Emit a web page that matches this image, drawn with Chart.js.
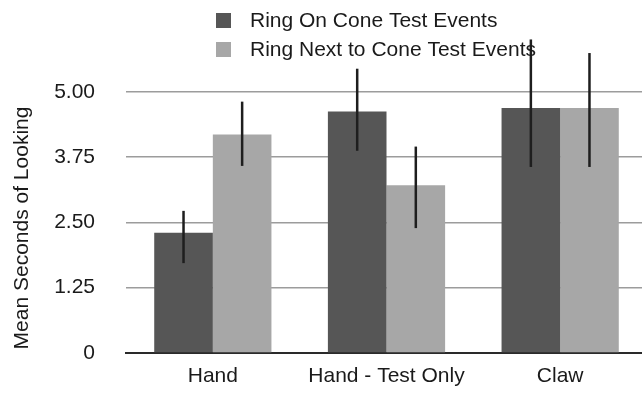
<!DOCTYPE html>
<html>
<head>
<meta charset="utf-8">
<script src="https://cdn.jsdelivr.net/npm/chart.js@4/dist/chart.umd.min.js"></script>
<style>
  html, body { margin: 0; padding: 0; background: #fff; overflow: hidden; }
  #wrap { width: 647px; height: 393px; }
</style>
</head>
<body>
<div id="wrap"><canvas id="chart"></canvas></div>
<script>
"use strict";

let categories = ["Hand", "Hand - Test Only", "Claw"];
let seriesNames = ["Ring On Cone Test Events", "Ring Next to Cone Test Events"];
let ringOn = [2.30, 4.62, 4.69];
let ringNext = [4.18, 3.21, 4.69];
let ringOnLow = [1.72, 3.87, 3.56];
let ringOnHigh = [2.72, 5.44, 6.00];
let ringNextLow = [3.58, 2.39, 3.56];
let ringNextHigh = [4.81, 3.95, 5.74];
let yTicks = [0, 1.25, 2.5, 3.75, 5];
let yTitle = "Mean Seconds of Looking";

let FONT = "'Liberation Sans', Arial, Helvetica, sans-serif";
let errLow = [ringOnLow, ringNextLow];
let errHigh = [ringOnHigh, ringNextHigh];

// error bars + legend + rotated axis title
let extras = {
  id: "extras",
  afterDatasetsDraw(chart) {
    let ctx = chart.ctx;
    let y = chart.scales.y;
    ctx.save();
    ctx.strokeStyle = "#1e1e1e";
    ctx.lineWidth = 2.5;
    chart.data.datasets.forEach((ds, i) => {
      let meta = chart.getDatasetMeta(i);
      meta.data.forEach((bar, j) => {
        ctx.beginPath();
        ctx.moveTo(bar.x, y.getPixelForValue(errLow[i][j]));
        ctx.lineTo(bar.x, y.getPixelForValue(errHigh[i][j]));
        ctx.stroke();
      });
    });

    // legend
    ctx.font = "21px " + FONT;
    ctx.textBaseline = "alphabetic";
    chart.data.datasets.forEach((ds, i) => {
      let top = 13 + i * 29;
      ctx.fillStyle = ds.backgroundColor;
      ctx.fillRect(216, top, 15, 15);
      ctx.fillStyle = "#1a1a1a";
      ctx.fillText(ds.label, 250, top + 14);
    });

    // y title
    ctx.translate(28, 228);
    ctx.rotate(-Math.PI / 2);
    ctx.textAlign = "center";
    ctx.fillStyle = "#1a1a1a";
    ctx.fillText(yTitle, 0, 0);
    ctx.restore();
  }
};

let chart = new Chart(document.getElementById("chart"), {
  type: "bar",
  data: {
    labels: categories,
    datasets: [
      { label: seriesNames[0], data: ringOn, backgroundColor: "#565656" },
      { label: seriesNames[1], data: ringNext, backgroundColor: "#a7a7a7" }
    ]
  },
  options: {
    responsive: true,
    maintainAspectRatio: false,
    animation: false,
    layout: { padding: { top: 29, left: 0, right: 0, bottom: 0 } },
    datasets: { bar: { barPercentage: 1, categoryPercentage: 0.675 } },
    plugins: { legend: { display: false }, tooltip: { enabled: false } },
    scales: {
      x: {
        grid: { display: false },
        border: { color: "#2a2a2a", width: 2 },
        ticks: { color: "#1a1a1a", font: { family: FONT, size: 21 }, padding: 3 },
        afterFit(scale) {
          scale.height = 40;
          scale.paddingLeft = 0;
          scale.paddingRight = 0;
        }
      },
      y: {
        min: 0,
        max: 6.2,
        border: { display: false },
        grid: { color: "#9c9c9c", lineWidth: 1.6, drawTicks: false },
        ticks: {
          color: "#1a1a1a",
          font: { family: FONT, size: 21 },
          padding: 31,
          callback: v => (v === 0 ? "0" : v.toFixed(2))
        },
        afterBuildTicks(scale) { scale.ticks = yTicks.map(v => ({ value: v })); },
        afterFit(scale) {
          scale.width = 126;
          scale.paddingTop = 0;
          scale.paddingBottom = 0;
        }
      }
    }
  },
  plugins: [extras]
});
</script>
</body>
</html>
